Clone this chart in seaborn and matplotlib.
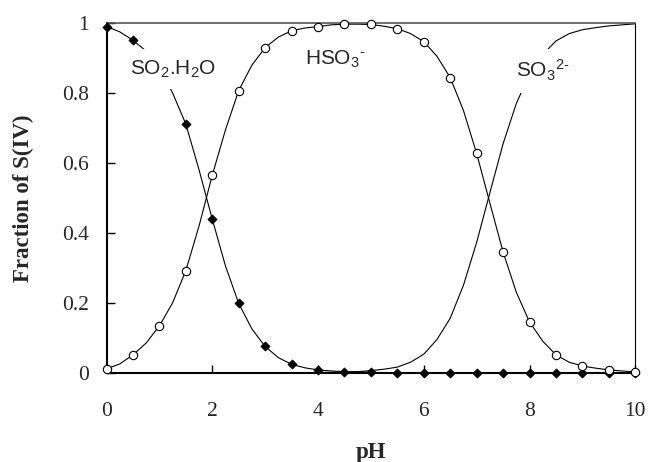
import matplotlib
matplotlib.use("Agg")
import matplotlib.pyplot as plt
import pandas as pd
import seaborn as sns

# ---- data ----
ph_markers = [0, 0.5, 1, 1.5, 2, 2.5, 3, 3.5, 4, 4.5, 5, 5.5, 6, 6.5, 7, 7.5, 8, 8.5, 9, 9.5, 10]
so2_markers = [0.99, 0.951, 0.875, 0.711, 0.439, 0.198, 0.075, 0.024, 0.008, 0.003, 0.001,
               0.0, 0.0, 0.0, 0.0, 0.0, 0.0, 0.0, 0.0, 0.0, 0.0]
hso3_markers = [0.011, 0.051, 0.134, 0.292, 0.565, 0.807, 0.93, 0.978, 0.99, 0.997, 0.996,
                0.984, 0.947, 0.844, 0.627, 0.345, 0.145, 0.051, 0.019, 0.008, 0.002]

ph_curve = [0, 0.25, 0.5, 0.75, 1, 1.25, 1.5, 1.75, 2, 2.25, 2.5, 2.75, 3, 3.25, 3.5, 3.75,
            4, 4.25, 4.5, 4.75, 5, 5.25, 5.5, 5.75, 6, 6.25, 6.5, 6.75, 7, 7.25, 7.5, 7.75,
            8, 8.25, 8.5, 8.75, 9, 9.25, 9.5, 9.75, 10]
so2_curve = [0.99, 0.975, 0.951, 0.92, 0.875, 0.80, 0.711, 0.58, 0.439, 0.305, 0.198, 0.125,
             0.075, 0.043, 0.024, 0.014, 0.008, 0.005, 0.003, 0.002, 0.001, 0.0, 0.0, 0.0,
             0.0, 0.0, 0.0, 0.0, 0.0, 0.0, 0.0, 0.0, 0.0, 0.0, 0.0, 0.0, 0.0, 0.0, 0.0, 0.0, 0.0]
hso3_curve = [0.011, 0.025, 0.051, 0.085, 0.134, 0.20, 0.292, 0.42, 0.565, 0.695, 0.807, 0.88,
              0.93, 0.96, 0.978, 0.986, 0.99, 0.995, 0.997, 0.997, 0.996, 0.991, 0.984, 0.97,
              0.947, 0.905, 0.844, 0.75, 0.627, 0.485, 0.345, 0.23, 0.145, 0.09, 0.051, 0.03,
              0.019, 0.013, 0.008, 0.005, 0.002]
so3_curve = [0.0, 0.0, 0.0, 0.0, 0.0, 0.0, 0.0, 0.0, 0.0, 0.0, 0.0, 0.0, 0.0, 0.0, 0.0, 0.0,
             0.001, 0.001, 0.002, 0.003, 0.006, 0.01, 0.016, 0.03, 0.053, 0.095, 0.156, 0.25,
             0.373, 0.515, 0.655, 0.77, 0.855, 0.91, 0.949, 0.97, 0.981, 0.987, 0.992, 0.995, 0.998]

species_labels = ["SO$_\\mathregular{2}$.H$_\\mathregular{2}$O",
                  "HSO$_\\mathregular{3}$$^\\mathregular{\u2010}$",
                  "SO$_\\mathregular{3}$$^\\mathregular{2\u2010}$"]
x_label = "pH"
y_label = "Fraction of S(IV)"

sns.set_theme(style="ticks")
plt.rcParams["font.family"] = ["Liberation Serif", "DejaVu Serif"]
plt.rcParams["mathtext.fontset"] = "custom"
plt.rcParams["mathtext.rm"] = "Liberation Sans"
plt.rcParams["mathtext.it"] = "Liberation Sans:italic"
plt.rcParams["mathtext.bf"] = "Liberation Sans:bold"

curves = pd.DataFrame({"pH": ph_curve, "so2": so2_curve, "hso3": hso3_curve, "so3": so3_curve})
marks = pd.DataFrame({"pH": ph_markers, "so2": so2_markers, "hso3": hso3_markers})

fig = plt.figure(figsize=(6.48, 4.62), dpi=100)
ax = fig.add_axes([0.1644, 0.1933, 0.816, 0.7567])

for col in ["so2", "hso3", "so3"]:
    sns.lineplot(data=curves, x="pH", y=col, ax=ax, color="black", linewidth=0.8,
                 zorder=2, clip_on=False)

sns.scatterplot(data=marks, x="pH", y="so2", ax=ax, marker="D", s=22, color="black",
                edgecolor="black", linewidth=0.5, zorder=4, clip_on=False)
sns.scatterplot(data=marks, x="pH", y="hso3", ax=ax, marker="o", s=36, facecolor="white",
                edgecolor="black", linewidth=0.8, zorder=4, clip_on=False)

txt_kw = dict(fontsize=15, fontfamily="Liberation Sans", va="center", ha="left", zorder=6)
ax.text(0.44, 0.868, species_labels[0],
        bbox=dict(facecolor="white", edgecolor="none", boxstyle="square,pad=0.45"), **txt_kw)
ax.text(3.75, 0.895, species_labels[1], **txt_kw)
ax.text(7.74, 0.864, species_labels[2],
        bbox=dict(facecolor="white", edgecolor="none", boxstyle="square,pad=0.45"), **txt_kw)

ax.set_xlim(0, 10)
ax.set_ylim(0, 1)
ax.set_xticks([0, 2, 4, 6, 8, 10])
ax.set_xticklabels(["0", "2", "4", "6", "8", "10"])
ax.set_yticks([0, 0.2, 0.4, 0.6, 0.8, 1])
ax.set_yticklabels(["0", "0.2", "0.4", "0.6", "0.8", "1"])
ax.tick_params(axis="both", direction="in", length=5.5, width=1, labelsize=15.5, color="black")
ax.tick_params(axis="x", pad=21)
ax.tick_params(axis="y", pad=12.5)
ax.set_xlabel(x_label, fontsize=16.5, fontweight="bold", labelpad=15)
ax.set_ylabel(y_label, fontsize=16.5, fontweight="bold", labelpad=20)

for side in ["left", "bottom"]:
    ax.spines[side].set_linewidth(1.5)
    ax.spines[side].set_color("black")
ax.spines["top"].set_linewidth(1.2)
ax.spines["top"].set_color("#555555")
ax.spines["right"].set_linewidth(0.8)
ax.spines["right"].set_color("black")
ax.set_facecolor("white")
fig.patch.set_facecolor("white")

fig.savefig("out.png", dpi=100)
